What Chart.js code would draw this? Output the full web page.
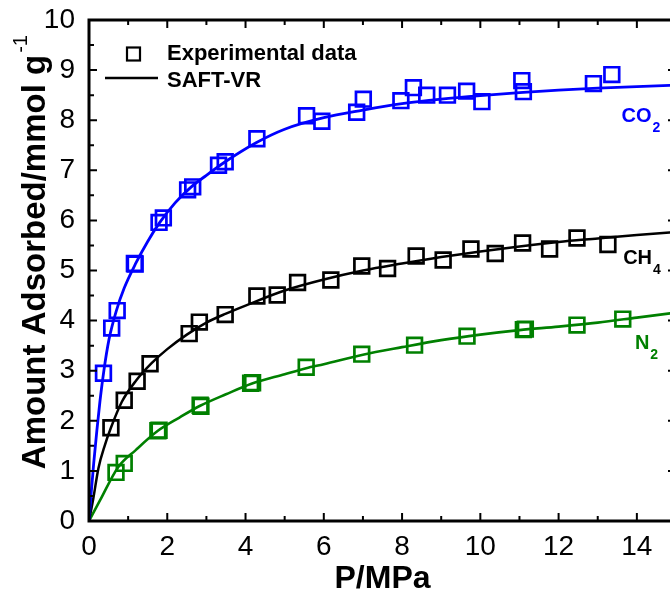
<!DOCTYPE html>
<html>
<head>
<meta charset="utf-8">
<script src="https://cdn.jsdelivr.net/npm/chart.js@4.4.1/dist/chart.umd.min.js"></script>
<style>
  html, body { margin: 0; padding: 0; overflow: hidden; background: #fff; }
  canvas { display: block; }
</style>
</head>
<body>
<canvas id="isotherm" width="700" height="598"></canvas>
<script>
// ---- Adsorption isotherms: CO2 / CH4 / N2, measured points + SAFT-VR fit ----

const FONT = '"Liberation Sans", Arial, Helvetica, sans-serif';

const xTicks = [0, 2, 4, 6, 8, 10, 12, 14];
const yTicks = [0, 1, 2, 3, 4, 5, 6, 7, 8, 9, 10];

// experimental points (P in MPa, amount in mmol/g)
const co2P = [0.37, 0.58, 0.72, 1.16, 1.18, 1.79, 1.90, 2.52, 2.65, 3.31, 3.48, 4.29, 5.56, 5.95, 6.84, 7.01, 7.97, 8.29, 8.63, 9.16, 9.65, 10.04, 11.06, 11.10, 12.89, 13.36];
const co2Q = [2.95, 3.85, 4.20, 5.14, 5.13, 5.96, 6.05, 6.61, 6.67, 7.10, 7.17, 7.63, 8.09, 7.98, 8.16, 8.42, 8.39, 8.65, 8.50, 8.50, 8.58, 8.37, 8.79, 8.57, 8.73, 8.91];

const ch4P = [0.56, 0.90, 1.23, 1.56, 2.56, 2.82, 3.48, 4.29, 4.81, 5.33, 6.18, 6.97, 7.63, 8.36, 9.05, 9.76, 10.38, 11.08, 11.77, 12.47, 13.26];
const ch4Q = [1.86, 2.41, 2.79, 3.14, 3.74, 3.97, 4.12, 4.49, 4.51, 4.76, 4.81, 5.09, 5.04, 5.29, 5.21, 5.43, 5.34, 5.55, 5.43, 5.65, 5.52];

const n2P = [0.69, 0.90, 1.76, 1.79, 2.84, 2.86, 4.13, 4.18, 5.55, 6.97, 8.32, 9.66, 11.10, 11.15, 12.47, 13.64];
const n2Q = [0.97, 1.15, 1.80, 1.81, 2.31, 2.29, 2.75, 2.76, 3.07, 3.33, 3.51, 3.69, 3.82, 3.83, 3.91, 4.03];

// SAFT-VR model curves
const co2FitP = [0, 0.05, 0.12, 0.20, 0.28, 0.38, 0.51, 0.70, 0.90, 1.20, 1.50, 1.80, 2.20, 2.60, 3.00, 3.50, 4.27, 5.00, 6.00, 7.00, 8.00, 9.00, 10.0, 11.0, 12.0, 13.0, 14.0, 15.0];
const co2FitQ = [0, 0.50, 1.15, 1.80, 2.39, 3.00, 3.62, 4.20, 4.65, 5.15, 5.58, 5.95, 6.35, 6.66, 6.90, 7.18, 7.55, 7.82, 8.05, 8.20, 8.33, 8.42, 8.49, 8.55, 8.60, 8.64, 8.67, 8.70];

const ch4FitP = [0, 0.11, 0.24, 0.40, 0.56, 0.84, 1.20, 1.60, 2.00, 2.50, 3.00, 3.50, 4.00, 5.00, 6.00, 7.00, 8.00, 9.00, 10.0, 11.0, 12.0, 13.0, 14.0, 15.0];
const ch4FitQ = [0, 0.45, 1.05, 1.50, 1.86, 2.38, 2.80, 3.15, 3.43, 3.72, 3.96, 4.14, 4.30, 4.60, 4.82, 5.00, 5.14, 5.27, 5.38, 5.48, 5.57, 5.64, 5.71, 5.77];

const n2FitP = [0, 0.28, 0.74, 1.20, 1.76, 2.30, 2.84, 3.50, 4.15, 5.00, 5.55, 6.00, 7.00, 8.00, 9.00, 10.0, 11.0, 12.0, 13.0, 14.0, 15.0];
const n2FitQ = [0, 0.41, 1.07, 1.42, 1.80, 2.06, 2.30, 2.53, 2.74, 2.93, 3.05, 3.13, 3.32, 3.47, 3.61, 3.72, 3.81, 3.88, 3.96, 4.06, 4.16];

const BLUE = '#0000ff', BLACK = '#000000', GREEN = '#008000';

const pts = (xs, ys) => xs.map((x, i) => ({ x, y: ys[i] }));

function markers(label, xs, ys, color) {
    return {
        label, data: pts(xs, ys), showLine: false,
        pointStyle: 'rect', pointRadius: 10.4, pointHoverRadius: 10.4,
        pointBorderWidth: 2.7, borderColor: color, backgroundColor: 'rgba(0,0,0,0)'
    };
}

function fit(label, xs, ys, color, width) {
    return {
        label, data: pts(xs, ys), showLine: true, pointRadius: 0, pointHoverRadius: 0,
        borderColor: color, borderWidth: width, cubicInterpolationMode: 'monotone', fill: false
    };
}

// frame, inward ticks on all four sides, legend, gas labels, y title
const decorations = {
    id: 'decorations',
    afterDraw(chart) {
        const { ctx, chartArea: a, scales: { x, y } } = chart;
        ctx.save();
        ctx.strokeStyle = '#000';
        ctx.lineWidth = 3;
        ctx.strokeRect(a.left, a.top, a.right - a.left, a.bottom - a.top);

        ctx.lineWidth = 2;
        ctx.beginPath();
        const vTick = (px, len) => {
            ctx.moveTo(px, a.bottom); ctx.lineTo(px, a.bottom - len);
            ctx.moveTo(px, a.top); ctx.lineTo(px, a.top + len);
        };
        const hTick = (py, len) => {
            ctx.moveTo(a.left, py); ctx.lineTo(a.left + len, py);
            ctx.moveTo(a.right, py); ctx.lineTo(a.right - len, py);
        };
        xTicks.forEach(v => {
            vTick(x.getPixelForValue(v), 8);
            vTick(x.getPixelForValue(v + 1), 5);
        });
        yTicks.forEach((v, i) => {
            hTick(y.getPixelForValue(v), 8);
            if (i < yTicks.length - 1) hTick(y.getPixelForValue(v + 0.5), 5);
        });
        ctx.stroke();

        // legend
        const lx = a.left, ly = a.top;
        ctx.lineWidth = 2.2;
        ctx.strokeRect(lx + 38, ly + 27.5, 13, 13);
        ctx.lineWidth = 2.5;
        ctx.beginPath();
        ctx.moveTo(lx + 16, ly + 58); ctx.lineTo(lx + 69, ly + 58);
        ctx.stroke();
        ctx.fillStyle = '#000';
        ctx.font = 'bold 22px ' + FONT;
        ctx.textAlign = 'left';
        ctx.textBaseline = 'alphabetic';
        ctx.fillText('Experimental data', lx + 78, ly + 40);
        ctx.fillText('SAFT-VR', lx + 78, ly + 67);

        // gas labels with subscripts
        const gas = (name, sub, px, py, color) => {
            const gx = x.getPixelForValue(px), gy = y.getPixelForValue(py);
            ctx.fillStyle = color;
            ctx.font = 'bold 20px ' + FONT;
            ctx.fillText(name, gx, gy);
            const w = ctx.measureText(name).width;
            ctx.font = 'bold 14px ' + FONT;
            ctx.fillText(sub, gx + w + 1, gy + 10);
        };
        gas('CO', '2', 13.61, 7.96, BLUE);
        gas('CH', '4', 13.65, 5.12, BLACK);
        gas('N', '2', 13.95, 3.43, GREEN);

        // y axis title with superscript
        ctx.fillStyle = '#000';
        ctx.translate(45, (a.top + a.bottom) / 2 - 8.5);
        ctx.rotate(-Math.PI / 2);
        ctx.font = 'bold 33px ' + FONT;
        ctx.textAlign = 'center';
        const main = 'Amount Adsorbed/mmol g';
        ctx.fillText(main, 0, 0);
        const mw = ctx.measureText(main).width;
        ctx.font = '20px ' + FONT;
        ctx.textAlign = 'left';
        ctx.fillText('-1', mw / 2 + 2, -18);
        ctx.restore();
    }
};

new Chart(document.getElementById('isotherm'), {
    type: 'scatter',
    data: {
        datasets: [
            markers('CO2', co2P, co2Q, BLUE),
            markers('CH4', ch4P, ch4Q, BLACK),
            markers('N2', n2P, n2Q, GREEN),
            fit('CO2 SAFT-VR', co2FitP, co2FitQ, BLUE, 2.8),
            fit('CH4 SAFT-VR', ch4FitP, ch4FitQ, BLACK, 2.5),
            fit('N2 SAFT-VR', n2FitP, n2FitQ, GREEN, 2.6)
        ]
    },
    options: {
        responsive: false,
        animation: false,
        events: [],
        layout: { padding: { top: 15, right: 24, left: 0, bottom: 0 } },
        plugins: { legend: { display: false }, tooltip: { enabled: false } },
        scales: {
            x: {
                type: 'linear', min: 0, max: 15,
                afterFit: s => { s.height = 77; },
                afterBuildTicks: s => { s.ticks = xTicks.map(v => ({ value: v })); },
                grid: { display: false },
                border: { display: false },
                ticks: {
                    color: '#000', padding: 4, maxRotation: 0, autoSkip: false,
                    font: { family: FONT, size: 28, lineHeight: 1 }
                },
                title: {
                    display: true, text: 'P/MPa', color: '#000',
                    font: { family: FONT, size: 32, weight: 'bold', lineHeight: 1.2 },
                    padding: { top: 0, bottom: 0 }
                }
            },
            y: {
                type: 'linear', min: 0, max: 10,
                afterFit: s => { s.width = 89; },
                afterBuildTicks: s => { s.ticks = yTicks.map(v => ({ value: v })); },
                grid: { display: false },
                border: { display: false },
                ticks: {
                    color: '#000', padding: 6, autoSkip: false,
                    font: { family: FONT, size: 28, lineHeight: 1 }
                }
            }
        }
    },
    plugins: [decorations]
});
</script>
</body>
</html>
